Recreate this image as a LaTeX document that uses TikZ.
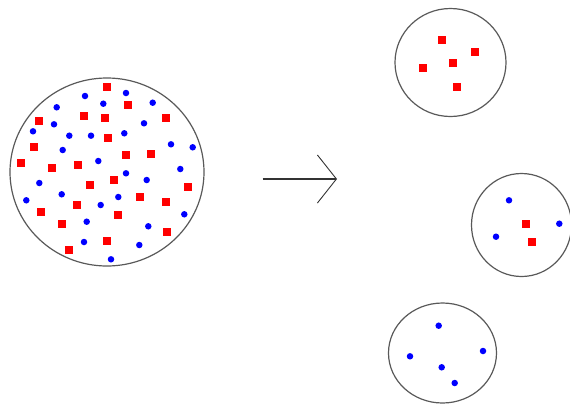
\documentclass[tikz,border=0pt]{standalone}
\usepackage{xcolor}
\usepackage{tikz}
\usetikzlibrary{shapes.geometric, arrows.meta}
\tikzstyle{blob} = [ellipse, draw=black!65, line width=1.2pt, inner sep=0pt]
\tikzstyle{redsq} = [rectangle, fill=red, minimum size=8pt, inner sep=0pt]
\tikzstyle{bluedot} = [circle, fill=blue, minimum size=6.5pt, inner sep=0pt]
\tikzstyle{arrow} = [line width=1.3pt, black!80, -{Straight Barb[length=19pt, width=48pt, line width=0.9pt]}]

\begin{document}
\begin{tikzpicture}[x=1pt, y=-1pt]
\useasboundingbox (0,0) rectangle (570,405);

% before
\node (big) [blob, minimum width=194pt, minimum height=188pt] at (107,172) {};
\foreach \x/\y [count=\i] in {107.3/87.3, 128.3/105, 84/115.7, 105.3/118.3, 165.7/117.7, 39.3/120.7, 108.3/138.3, 34.3/146.7, 125.7/155.3, 151/154.3, 20.7/163, 51.7/167.7, 77.7/165, 114/180.3, 90.3/185.3, 187.7/187, 140/196.7, 165.7/201.7, 77/205.3, 41.3/212, 117.7/215, 62.3/224.3, 166.7/231.7, 107.3/241.3, 69.3/249.7}
  \node (r\i) [redsq] at (\x,\y) {};
\foreach \x/\y [count=\i] in {85/96, 126/93, 56.7/107.3, 103.3/103.7, 152.7/102.7, 54/124.3, 144/123.3, 33/131.3, 69.3/135.7, 91/135.7, 124.3/133.3, 171/144.3, 192.7/147.3, 62.7/150, 98.3/161, 180.3/169, 126/173.3, 146.7/180, 39.3/183, 61.7/194.3, 118.3/197, 26.3/200.3, 100.7/205, 184.3/214.3, 86.7/221.7, 148.3/226.3, 84/242, 139.3/245, 111/259.3}
  \node (b\i) [bluedot] at (\x,\y) {};

% arrow
\coordinate (from) at (262.5,179);
\coordinate (to) at (337,179);
\draw [arrow] (from) -- (to);

% after
\node (top) [blob, minimum width=111pt, minimum height=108pt] at (450.5,62.5) {};
\foreach \x/\y [count=\i] in {442/39.7, 475/52.3, 452.7/63, 423/68.3, 456.7/86.7}
  \node (tr\i) [redsq] at (\x,\y) {};

\node (mid) [blob, minimum width=100pt, minimum height=103pt] at (521.5,225) {};
\foreach \x/\y [count=\i] in {526/224, 531.7/242.3}
  \node (mr\i) [redsq] at (\x,\y) {};
\foreach \x/\y [count=\i] in {509/200.3, 559.3/223.7, 496/236.7}
  \node (mb\i) [bluedot] at (\x,\y) {};

\node (low) [blob, minimum width=108pt, minimum height=100pt] at (442.5,353) {};
\foreach \x/\y [count=\i] in {438.7/325.7, 410/356.3, 483/351, 441.7/367.3, 454.7/383}
  \node (lb\i) [bluedot] at (\x,\y) {};

\end{tikzpicture}
\end{document}
